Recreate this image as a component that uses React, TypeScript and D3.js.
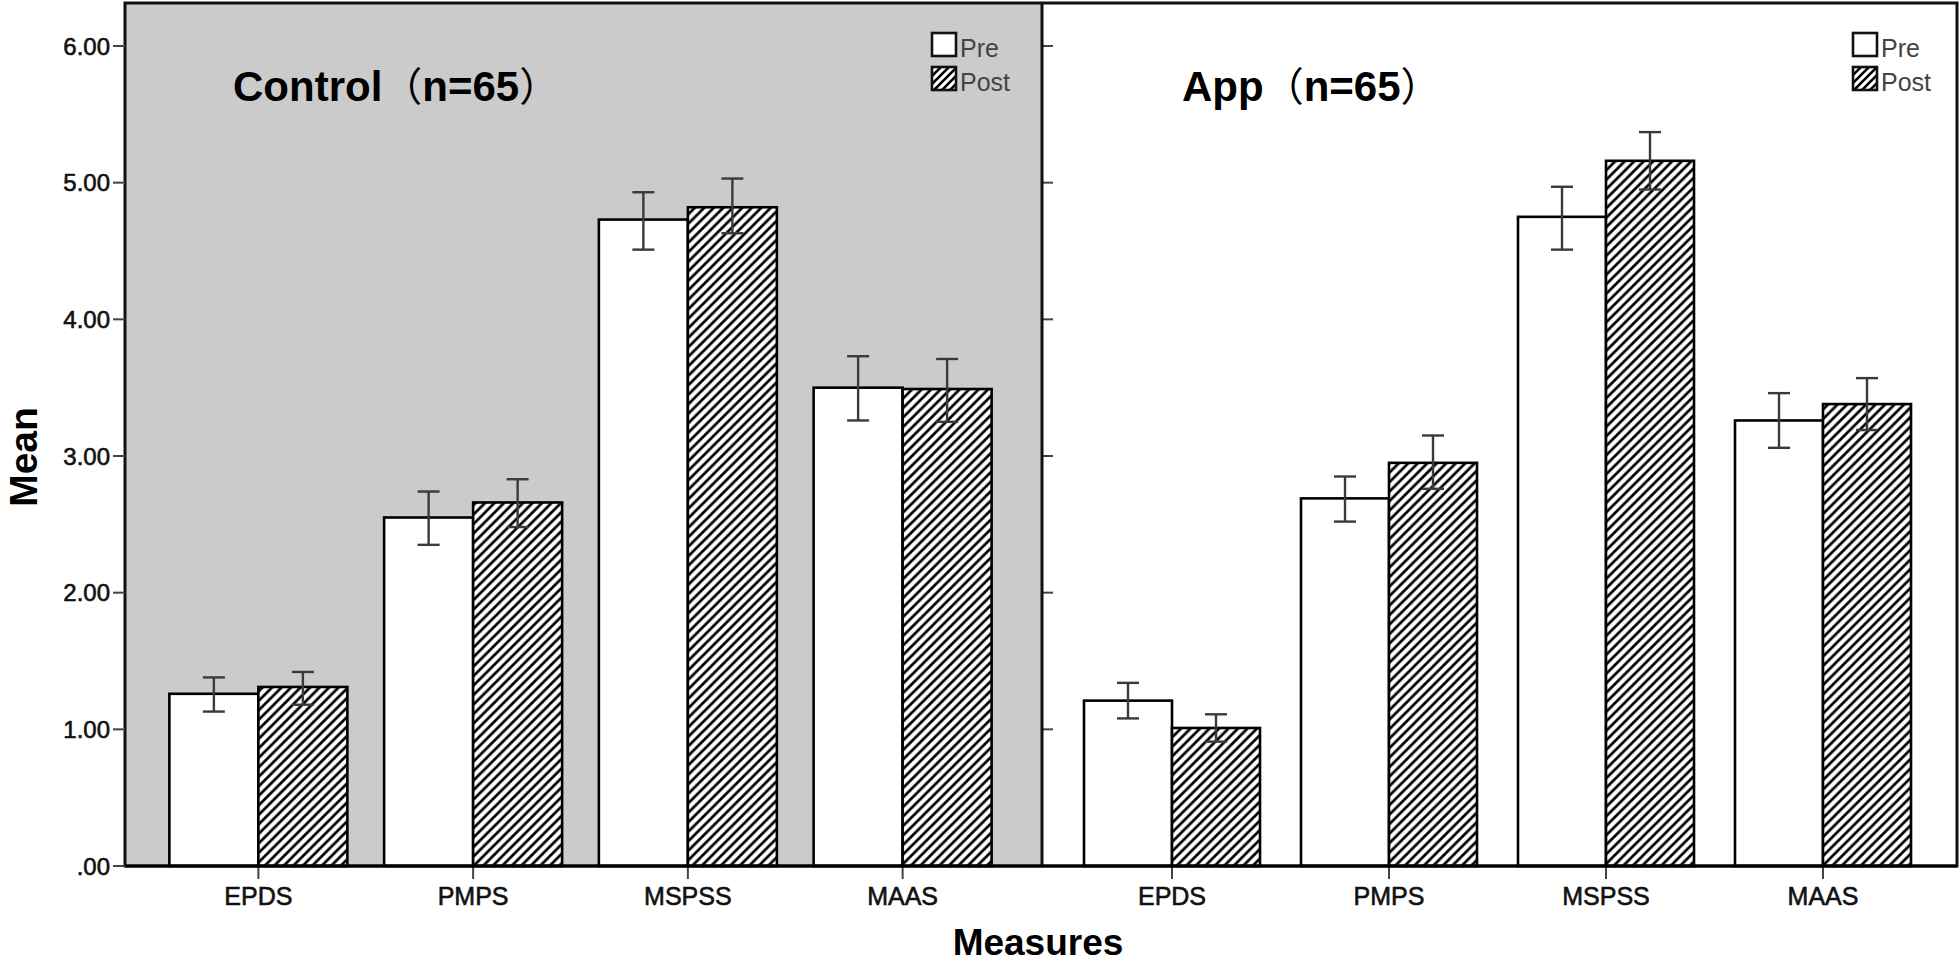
import React from "react";
import * as d3 from "d3";

const measures = ["EPDS", "PMPS", "MSPSS", "MAAS"];
const yTicks = [0, 1, 2, 3, 4, 5, 6];
const yTickLabels = [".00", "1.00", "2.00", "3.00", "4.00", "5.00", "6.00"];

const controlPre = [1.26, 2.55, 4.73, 3.5];
const controlPreLo = [1.13, 2.35, 4.51, 3.26];
const controlPreHi = [1.38, 2.74, 4.93, 3.73];
const controlPost = [1.31, 2.66, 4.82, 3.49];
const controlPostLo = [1.18, 2.48, 4.63, 3.25];
const controlPostHi = [1.42, 2.83, 5.03, 3.71];

const appPre = [1.21, 2.69, 4.75, 3.26];
const appPreLo = [1.08, 2.52, 4.51, 3.06];
const appPreHi = [1.34, 2.85, 4.97, 3.46];
const appPost = [1.01, 2.95, 5.16, 3.38];
const appPostLo = [0.91, 2.76, 4.95, 3.19];
const appPostHi = [1.11, 3.15, 5.37, 3.57];

const groups = ["Pre", "Post"];

const W = 1960;
const H = 962;
const top = 3;
const base = 866;
const y = d3.scaleLinear().domain([0, 6]).range([base, 46]);

type Panel = {
  name: string;
  x0: number;
  x1: number;
  range: [number, number];
  bg: string;
  titleX: number;
  legendX: number;
  pre: number[];
  preLo: number[];
  preHi: number[];
  post: number[];
  postLo: number[];
  postHi: number[];
  barW: number;
};

const panels: Panel[] = [
  {
    name: "Control",
    x0: 125,
    x1: 1042,
    range: [151, 1010],
    bg: "#cbcbcb",
    titleX: 233,
    legendX: 932,
    pre: controlPre,
    preLo: controlPreLo,
    preHi: controlPreHi,
    post: controlPost,
    postLo: controlPostLo,
    postHi: controlPostHi,
    barW: 89,
  },
  {
    name: "App",
    x0: 1042,
    x1: 1957,
    range: [1063.5, 1931.5],
    bg: "#ffffff",
    titleX: 1182,
    legendX: 1853,
    pre: appPre,
    preLo: appPreLo,
    preHi: appPreHi,
    post: appPost,
    postLo: appPostLo,
    postHi: appPostHi,
    barW: 88,
  },
];

const font = "'Liberation Sans', Arial, sans-serif";
const cjk = "'Noto Sans CJK JP', 'Liberation Sans', sans-serif";

function PanelView({ p, idx }: { p: Panel; idx: number }) {
  const x = d3.scaleBand<string>().domain(measures).range(p.range).padding(0);
  const g = d3
    .scaleBand<string>()
    .domain(groups)
    .range([x.bandwidth() / 2 - p.barW, x.bandwidth() / 2 + p.barW])
    .padding(0);
  const series = [
    { key: "Pre", v: p.pre, lo: p.preLo, hi: p.preHi, fill: "#ffffff" },
    { key: "Post", v: p.post, lo: p.postLo, hi: p.postHi, fill: "url(#hatch)" },
  ];
  return (
    <g>
      <rect x={p.x0} y={top} width={p.x1 - p.x0} height={base - top} fill={p.bg} />
      {series.map((s) =>
        measures.map((m, i) => {
          const bx = (x(m) as number) + (g(s.key) as number);
          return (
            <rect
              key={s.key + m}
              x={bx}
              y={y(s.v[i])}
              width={g.bandwidth()}
              height={base - y(s.v[i])}
              fill={s.fill}
              stroke="#000"
              strokeWidth={2.6}
            />
          );
        })
      )}
      {series.map((s) =>
        measures.map((m, i) => {
          const cx = (x(m) as number) + (g(s.key) as number) + g.bandwidth() / 2;
          return (
            <g key={"e" + s.key + m} stroke="#3a3a3a" strokeWidth={2.4}>
              <line x1={cx} x2={cx} y1={y(s.lo[i])} y2={y(s.hi[i])} />
              <line x1={cx - 11} x2={cx + 11} y1={y(s.lo[i])} y2={y(s.lo[i])} />
              <line x1={cx - 11} x2={cx + 11} y1={y(s.hi[i])} y2={y(s.hi[i])} />
            </g>
          );
        })
      )}
      {measures.map((m) => {
        const cx = (x(m) as number) + x.bandwidth() / 2;
        return (
          <g key={"t" + m}>
            <line x1={cx} x2={cx} y1={base} y2={879} stroke="#444" strokeWidth={2} />
            <text
              x={cx}
              y={905}
              textAnchor="middle"
              fontFamily={font}
              fontSize={25}
              fill="#111"
              stroke="#111"
              strokeWidth={0.6}
            >
              {m}
            </text>
          </g>
        );
      })}
      {idx === 1 &&
        yTicks.map((t) => (
          <line key={"iy" + t} x1={p.x0} x2={p.x0 + 11} y1={y(t)} y2={y(t)} stroke="#444" strokeWidth={2} />
        ))}
      <text x={p.titleX} y={101} fontFamily={font} fontWeight="bold" fontSize={42} fill="#000">
        <tspan>{p.name}</tspan>
        <tspan fontFamily={cjk} fontSize={40} fontWeight="normal">（</tspan>
        <tspan>n=65</tspan>
        <tspan fontFamily={cjk} fontSize={40} fontWeight="normal">）</tspan>
      </text>
      <g>
        <rect x={p.legendX} y={33} width={24} height={23} fill="#fff" stroke="#111" strokeWidth={2.6} />
        <rect x={p.legendX} y={67} width={24} height={23} fill="url(#hatchL)" stroke="#111" strokeWidth={2.6} />
        <text x={p.legendX + 28} y={57} fontFamily={font} fontSize={25} fill="#444">
          Pre
        </text>
        <text x={p.legendX + 28} y={91} fontFamily={font} fontSize={25} fill="#444">
          Post
        </text>
      </g>
    </g>
  );
}

export default function App() {
  return (
    <svg
      width={W}
      height={H}
      viewBox={`0 0 ${W} ${H}`}
      style={{ position: "absolute", left: 0, top: 0, background: "#fff" }}
    >
      <defs>
        <pattern id="hatch" patternUnits="userSpaceOnUse" width={9.5} height={9.5}>
          <rect width={9.5} height={9.5} fill="#fff" />
          <path
            d="M-2,2 L2,-2 M0,9.5 L9.5,0 M7.5,11.5 L11.5,7.5"
            stroke="#000"
            strokeWidth={2.7}
          />
        </pattern>
        <pattern id="hatchL" patternUnits="userSpaceOnUse" width={8} height={8}>
          <rect width={8} height={8} fill="#fff" />
          <path d="M-2,2 L2,-2 M0,8 L8,0 M6,10 L10,6" stroke="#000" strokeWidth={2.6} />
        </pattern>
      </defs>
      <rect width={W} height={H} fill="#fff" />
      {panels.map((p, i) => (
        <PanelView key={p.name} p={p} idx={i} />
      ))}
      <rect x={125} y={top} width={1957 - 125} height={base - top} fill="none" stroke="#111" strokeWidth={3} />
      <line x1={1042} x2={1042} y1={top} y2={base} stroke="#111" strokeWidth={3} />
      <line x1={125} x2={1957} y1={base} y2={base} stroke="#000" strokeWidth={3.2} />
      {yTicks.map((t, i) => (
        <g key={"y" + t}>
          <line x1={113} x2={125} y1={y(t)} y2={y(t)} stroke="#444" strokeWidth={2} />
          <text
            x={110}
            y={y(t)}
            dy="0.36em"
            textAnchor="end"
            fontFamily={font}
            fontSize={24}
            fill="#111"
            stroke="#111"
            strokeWidth={0.6}
          >
            {yTickLabels[i]}
          </text>
        </g>
      ))}
      <text
        transform="translate(37,457) rotate(-90)"
        textAnchor="middle"
        fontFamily={font}
        fontWeight="bold"
        fontSize={39}
        fill="#000"
      >
        Mean
      </text>
      <text x={1038} y={955} textAnchor="middle" fontFamily={font} fontWeight="bold" fontSize={37} fill="#000">
        Measures
      </text>
    </svg>
  );
}
